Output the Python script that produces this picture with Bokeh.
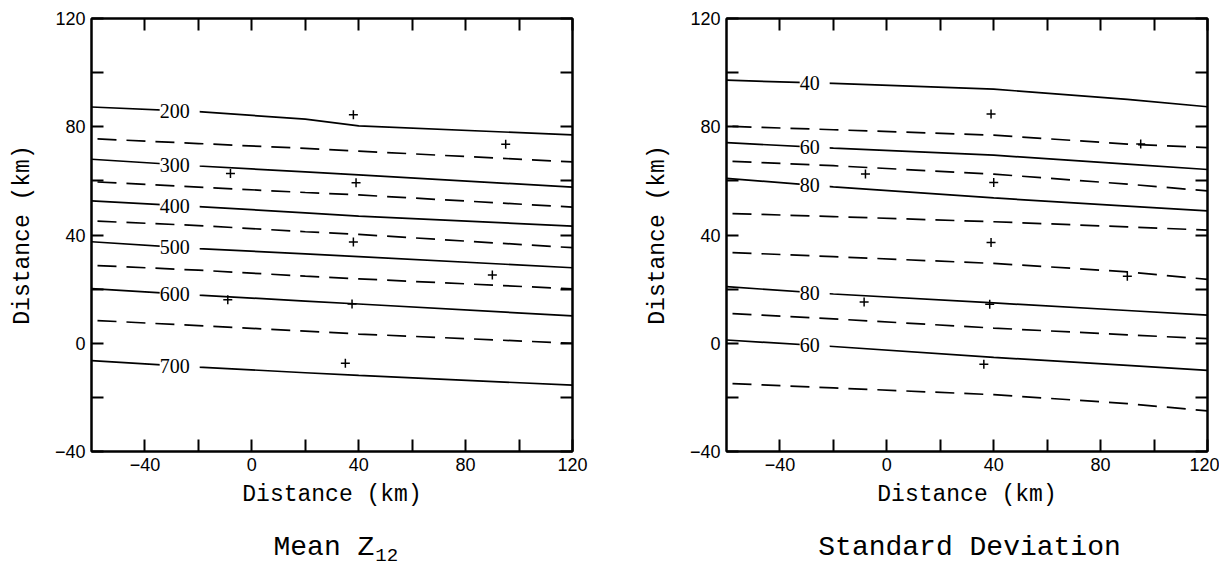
import numpy as np
from bokeh.plotting import figure
from bokeh.models import LinearAxis, FixedTicker, ColumnDataSource, Range1d, LabelSet
from bokeh.layouts import row, column
from bokeh.core.properties import value
from bokeh.embed import file_html
from bokeh.resources import INLINE

# ---------------- data ----------------
# Left panel: Mean Z12 contours (km positions)
mean_x = [-60, -20, 20, 40, 120]
mean_solid_levels = ["200", "300", "400", "500", "600", "700"]
mean_solid_y = [
    [87.3, 85.6, 82.8, 80.3, 77.0],
    [68.0, 65.5, 63.3, 62.2, 57.7],
    [52.6, 50.5, 48.2, 47.0, 43.3],
    [37.5, 35.0, 33.0, 32.0, 27.9],
    [20.2, 17.8, 15.6, 14.5, 10.1],
    [-6.4, -8.8, -10.9, -11.9, -15.5],
]
mean_dashed_levels = ["250", "350", "450", "550", "650"]
mean_dashed_y = [
    [75.6, 73.8, 72.0, 71.0, 67.0],
    [59.7, 57.7, 55.7, 54.8, 50.3],
    [45.2, 43.5, 41.2, 40.2, 35.3],
    [28.8, 27.0, 24.8, 23.8, 20.1],
    [8.5, 6.5, 4.5, 3.4, 0.0],
]
mean_pts_x = [38, 95, -8, 39, 38, 90, -9, 37.5, 35]
mean_pts_y = [84.4, 73.5, 62.7, 59.3, 37.4, 25.2, 16.1, 14.5, -7.4]

# Right panel: Standard deviation contours
sd_x = [-60, -20, 40, 90, 120]
sd_solid_levels = ["40", "60", "80", "80", "60"]
sd_solid_y = [
    [97.2, 96.0, 93.9, 90.1, 87.4],
    [74.1, 72.1, 69.5, 66.2, 64.2],
    [60.9, 57.8, 53.7, 50.7, 48.9],
    [20.9, 18.2, 14.9, 12.1, 10.4],
    [1.2, -1.2, -5.2, -8.2, -10.0],
]
sd_dashed_levels = ["50", "70", "90", "90", "70", "50"]
sd_dashed_y = [
    [80.2, 78.9, 76.9, 73.6, 72.3],
    [67.3, 65.6, 62.5, 58.8, 56.3],
    [48.0, 46.8, 44.9, 43.0, 41.8],
    [33.6, 32.0, 29.5, 26.4, 23.6],
    [11.1, 9.0, 5.6, 3.1, 1.7],
    [-14.8, -16.5, -19.0, -22.3, -25.0],
]
sd_pts_x = [39, 95, -8, 40, 39, 90, -8.5, 38.5, 36.3]
sd_pts_y = [84.7, 73.6, 62.5, 59.4, 37.2, 24.8, 15.2, 14.4, -7.8]

tick_values = [-40, -20, 0, 20, 40, 60, 80, 100, 120]
tick_labels = {-40: "\u221240", -20: "", 0: "0", 20: "", 40: "40", 60: "", 80: "80", 100: "", 120: "120"}

titles_main = ["Mean Z", "Standard Deviation"]
titles_sub = ["12", ""]

AX_FONT = "Liberation Mono"
TICK_FONT = "Liberation Sans"
LABEL_X = -27


def style_axis(ax, show_labels, label=None, standoff=10):
    ax.ticker = FixedTicker(ticks=tick_values)
    ax.major_tick_in = 12
    ax.major_tick_out = 0
    ax.minor_tick_in = 0
    ax.minor_tick_out = 0
    ax.axis_line_width = 2
    ax.axis_line_color = "black"
    ax.major_tick_line_width = 2
    ax.major_tick_line_color = "black"
    ax.major_label_overrides = tick_labels
    ax.major_label_text_font = TICK_FONT
    ax.major_label_text_font_size = "18px"
    ax.major_label_text_color = "black" if show_labels else None
    ax.major_label_standoff = 6
    if label:
        ax.axis_label = label
        ax.axis_label_text_font = AX_FONT
        ax.axis_label_text_font_size = "23px"
        ax.axis_label_text_font_style = "normal"
        ax.axis_label_text_color = "black"
        ax.axis_label_standoff = standoff


def make_panel(xs, solid_levels, solid_y, dashed_y, pts_x, pts_y, border_left, border_right):
    p = figure(
        output_backend="svg", toolbar_location=None,
        x_range=Range1d(-60, 120), y_range=Range1d(-40, 120),
        frame_width=481, frame_height=433,
        min_border_left=border_left, min_border_right=border_right,
        min_border_top=18, min_border_bottom=60,
        background_fill_color="white", border_fill_color="white",
        outline_line_color="black", outline_line_width=2,
    )
    p.grid.visible = False
    style_axis(p.xaxis[0], True, "Distance (km)", standoff=8)
    style_axis(p.yaxis[0], True, "Distance (km)", standoff=16)
    top = LinearAxis()
    right = LinearAxis()
    style_axis(top, False)
    style_axis(right, False)
    p.add_layout(top, "above")
    p.add_layout(right, "right")

    for ys in dashed_y:
        p.line(xs, ys, line_color="black", line_width=1.7, line_dash="19 10", line_dash_offset=-6)
    for ys in solid_y:
        p.line(xs, ys, line_color="black", line_width=1.7)

    lab_y = [float(np.interp(LABEL_X, xs, ys)) for ys in solid_y]
    src = ColumnDataSource(dict(x=[LABEL_X] * len(solid_levels), y=lab_y,
                                t=[" %s " % s for s in solid_levels]))
    p.add_layout(LabelSet(x="x", y="y", text="t", source=src, text_align="center",
                          text_baseline="middle", text_font=TICK_FONT,
                          text_font_size="20px", text_color="black",
                          background_fill_color="white"))

    p.scatter(pts_x, pts_y, marker="cross", size=9, line_color="black", line_width=1.5)
    return p


def make_title(width, main, sub, x0):
    h = 54
    t = figure(output_backend="svg", toolbar_location=None, width=width, height=h,
               x_range=Range1d(0, width), y_range=Range1d(0, h),
               min_border=0, outline_line_color=None,
               x_axis_type=None, y_axis_type=None)
    t.grid.visible = False
    t.text(x=[x0], y=[18], text=[main], text_align="left", text_baseline="middle",
           text_font=value(AX_FONT), text_font_size="28px", text_font_style="normal",
           text_color="black")
    if sub:
        t.text(x=[x0 + len(main) * 16.8 + 1], y=[11], text=[sub], text_align="left",
               text_baseline="middle", text_font=value(AX_FONT), text_font_size="19px",
               text_font_style="normal", text_color="black")
    return t


p1 = make_panel(mean_x, mean_solid_levels, mean_solid_y, mean_dashed_y,
                mean_pts_x, mean_pts_y, 91, 69)
p2 = make_panel(sd_x, sd_solid_levels, sd_solid_y, sd_dashed_y,
                sd_pts_x, sd_pts_y, 80, 12)
t1 = make_title(641, titles_main[0], titles_sub[0], 273)
t2 = make_title(573, titles_main[1], titles_sub[1], 328 - 18 * 16.8 / 2)

layout = column(row(p1, p2), row(t1, t2))
open("out.html", "w").write(file_html(layout, INLINE))
